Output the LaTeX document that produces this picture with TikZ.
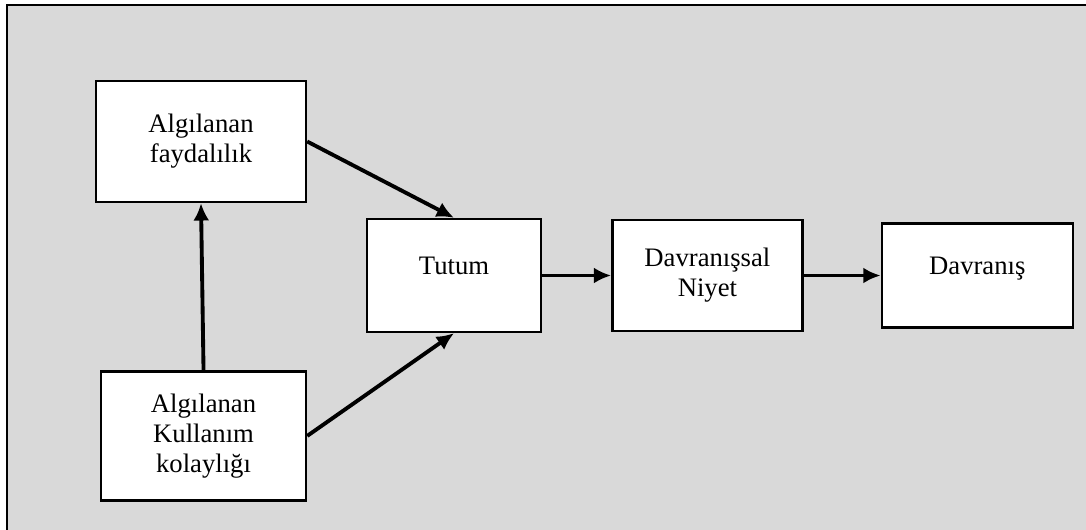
\documentclass[tikz,border=0pt]{standalone}
\usepackage{fontspec}
\setmainfont{Liberation Serif}
\usepackage{tikz}
\usetikzlibrary{arrows.meta,positioning}
\definecolor{panelgray}{HTML}{D9D9D9}
\begin{document}
\begin{tikzpicture}[auto,>={Latex[length=13pt,width=12pt]},x=0.75pt,y=-0.75pt]
	\tikzstyle{block} = [draw, fill=white, rectangle, line width=1.8pt, align=center, font=\fontsize{20}{22.5}\selectfont]
	\tikzstyle{link} = [->, line width=2.9pt]
	\tikzstyle{upper} = [text depth=14pt]

	\useasboundingbox (0,0) rectangle (1086,529);
	\clip (0,0) rectangle (1086,529);
	\draw [fill=panelgray, line width=1.5pt] (6.5,4.5) rectangle (1100,545);

	\node [block, minimum width=157.5pt, minimum height=90.75pt] (fayda) at (201,141.5) {Algılanan\\faydalılık};
	\node [block, minimum width=153.75pt, minimum height=96.75pt, below=125.25pt of fayda, xshift=1.9pt] (kolay) {Algılanan\\Kullanım\\kolaylığı};
	\node [block, upper, minimum width=130.5pt, minimum height=84.75pt] (tutum) at (454,275.5) {Tutum};
	\node [block, minimum width=142.5pt, minimum height=83.25pt, right=51.75pt of tutum] (niyet) {Davranışsal\\Niyet};
	\node [block, upper, minimum width=143.25pt, minimum height=78pt, right=57.75pt of niyet] (davranis) {Davranış};

	\draw [link] (kolay.north) -- (fayda.south);
	\draw [link] (fayda.east) -- (tutum.north);
	\draw [link] (kolay.east) -- (tutum.south);
	\draw [link] (tutum) -- (niyet);
	\draw [link] (niyet) -- (davranis);
\end{tikzpicture}
\end{document}
